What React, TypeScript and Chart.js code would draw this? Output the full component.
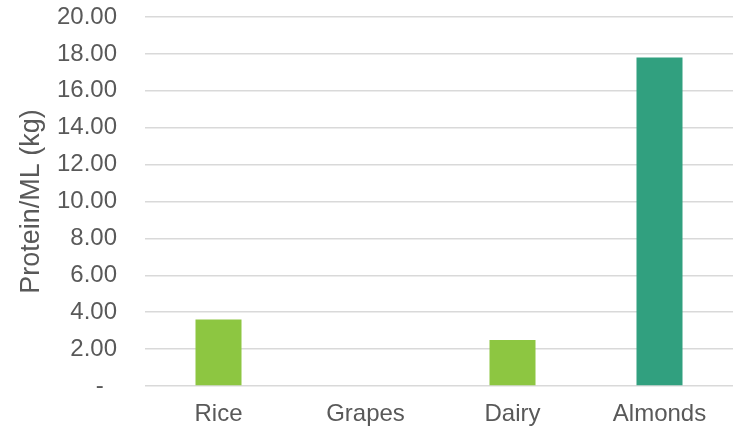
import React, { useEffect, useRef } from "react";
import { Chart, registerables } from "chart.js";

Chart.register(...registerables);

const categories = ["Rice", "Grapes", "Dairy", "Almonds"];
const proteinValues = [3.6, 0, 2.5, 17.8];
const barColors = ["#8DC641", "#8DC641", "#8DC641", "#31A07F"];
const yTicks = [0, 2, 4, 6, 8, 10, 12, 14, 16, 18, 20];
const yTitle = "Protein/ML (kg)";

export default function App() {
  const ref = useRef<HTMLCanvasElement | null>(null);
  useEffect(() => {
    document.body.style.margin = "0";
    const ctx = ref.current!;
    const chart = new Chart(ctx, {
      type: "bar",
      data: {
        labels: categories,
        datasets: [
          {
            data: proteinValues,
            backgroundColor: barColors,
            borderWidth: 0,
            categoryPercentage: 1,
            barPercentage: 0.313,
          },
        ],
      },
      options: {
        animation: false,
        responsive: false,
        maintainAspectRatio: false,
        layout: { padding: { left: 15, right: 3, top: 0, bottom: 0 } },
        plugins: { legend: { display: false }, tooltip: { enabled: false } },
        scales: {
          x: {
            grid: { display: false, drawTicks: false },
            border: { display: false },
            afterFit: (axis: any) => {
              axis.height = 42;
            },
            ticks: {
              color: "#595959",
              font: { family: "'Liberation Sans', Arial, sans-serif", size: 24 },
              padding: 14,
              maxRotation: 0,
            },
          },
          y: {
            min: 0,
            max: 20,
            afterBuildTicks: (axis: any) => {
              axis.ticks = yTicks.map((v) => ({ value: v }));
            },
            afterFit: (axis: any) => {
              axis.width = 130;
              axis.paddingTop = 17;
              axis.paddingBottom = 0;
            },
            grid: { color: "#D9D9D9", lineWidth: 1.5, drawTicks: false },
            border: { display: false },
            ticks: {
              color: "#595959",
              font: { family: "'Liberation Sans', Arial, sans-serif", size: 24 },
              padding: 28,
              callback: (v: any) => (Number(v) === 0 ? "-  " : Number(v).toFixed(2)),
            },
            title: {
              display: true,
              text: yTitle,
              color: "#595959",
              font: { family: "'Liberation Sans', Arial, sans-serif", size: 27 },
              padding: { top: 0, bottom: 4 },
            },
          },
        },
      },
    });
    return () => chart.destroy();
  }, []);
  return <canvas ref={ref} width={736} height={428} style={{ display: "block" }} />;
}
